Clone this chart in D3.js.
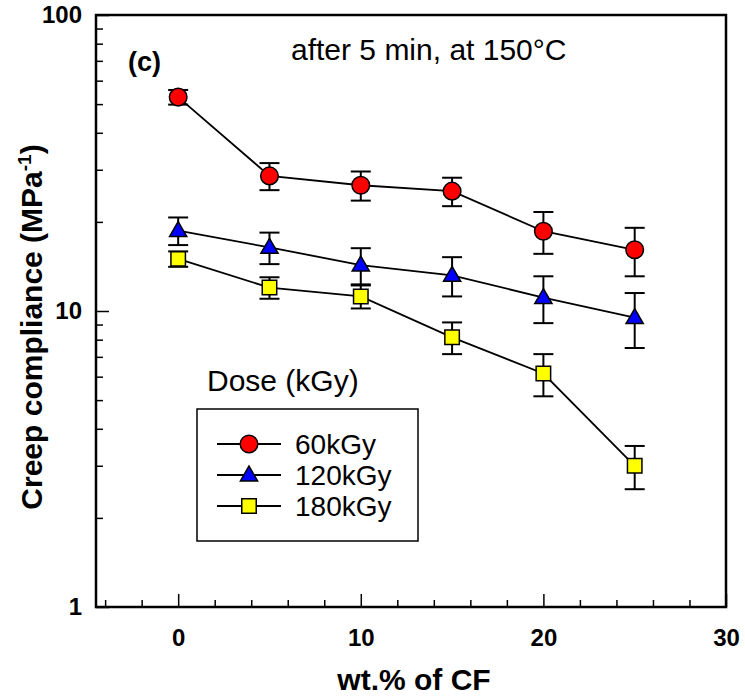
<!doctype html>
<html lang="en">
<head>
<meta charset="utf-8">
<style>
	body{margin:0;background:#fff;}
	svg text{font-family:Arial,"Liberation Sans",sans-serif;fill:#000;}
</style>
</head>
<body>
<div id="grafico"></div>

<script src="https://d3js.org/d3.v7.min.js"></script>

<script>

// datos (wt.% de CF vs compliance)

var wt = [0, 5, 10, 15, 20, 25];

var dosis = ["60kGy", "120kGy", "180kGy"];

var v60 = [52.8, 28.6, 26.6, 25.4, 18.6, 16.1];
var e60 = [3.0, 3.0, 3.0, 2.8, 3.0, 3.0];

var v120 = [18.7, 16.4, 14.3, 13.2, 11.1, 9.5];
var e120 = [2.0, 2.0, 2.0, 2.0, 2.0, 2.0];

var v180 = [15.0, 12.0, 11.2, 8.15, 6.15, 3.0];
var e180 = [0.9, 1.0, 1.0, 1.0, 1.0, 0.5];

var yMayores = [1, 10, 100];
var xMayores = [0, 10, 20, 30];

var series = [
	{nombre: dosis[0], v: v60, e: e60, forma: "circulo", color: "#ff0000"},
	{nombre: dosis[1], v: v120, e: e120, forma: "triangulo", color: "#0000ff"},
	{nombre: dosis[2], v: v180, e: e180, forma: "cuadrado", color: "#ffff00"}
];

var ancho = 745, alto = 698;
var m = {izq: 96, der: 726, arr: 15, aba: 607};

var x = d3.scaleLinear().domain([-4.5, 30]).range([m.izq, m.der]);
var y = d3.scaleLog().domain([1, 100]).range([m.aba, m.arr]);

var svg = d3.select("#grafico").append("svg").attr("width", ancho).attr("height", alto);

// ejes: ticks hacia adentro, sin etiquetas en los menores

var menoresY = y.ticks().filter(function(d){ return yMayores.indexOf(d) < 0; });
var menoresX = d3.range(-4, 30, 2).filter(function(d){ return xMayores.indexOf(d) < 0; });

svg.append("g").attr("transform", "translate(" + m.izq + ",0)")
	.call(d3.axisLeft(y).tickValues(menoresY).tickSize(-7).tickFormat(""))
	.call(function(g){ g.select(".domain").remove(); g.selectAll("line").attr("stroke-width", 1.5); });

svg.append("g").attr("transform", "translate(" + m.izq + ",0)")
	.call(d3.axisLeft(y).tickValues(yMayores).tickSize(-13).tickPadding(14).tickFormat(d3.format("d")))
	.call(function(g){
		g.select(".domain").remove();
		g.selectAll("line").attr("stroke-width", 1.5);
		g.selectAll("text").style("font-size", "24px").style("font-weight", "bold");
	});

svg.append("g").attr("transform", "translate(0," + m.aba + ")")
	.call(d3.axisBottom(x).tickValues(menoresX).tickSize(-7).tickFormat(""))
	.call(function(g){ g.select(".domain").remove(); g.selectAll("line").attr("stroke-width", 1.5); });

svg.append("g").attr("transform", "translate(0," + m.aba + ")")
	.call(d3.axisBottom(x).tickValues(xMayores).tickSize(-13).tickPadding(22).tickFormat(d3.format("d")))
	.call(function(g){
		g.select(".domain").remove();
		g.selectAll("line").attr("stroke-width", 1.5);
		g.selectAll("text").style("font-size", "24px").style("font-weight", "bold");
	});

svg.append("rect").attr("x", m.izq).attr("y", m.arr).attr("width", m.der - m.izq).attr("height", m.aba - m.arr)
	.attr("fill", "none").attr("stroke", "#000").attr("stroke-width", 2.5);

// titulos

svg.append("text").attr("x", 414).attr("y", 690).attr("text-anchor", "middle")
	.style("font-size", "30px").style("font-weight", "bold").text("wt.% of CF");

var ty = svg.append("text").attr("transform", "translate(42,327) rotate(-90)")
	.attr("text-anchor", "middle").style("font-size", "30px").style("font-weight", "bold");
ty.append("tspan").text("Creep compliance (MPa");
ty.append("tspan").attr("dy", -11).style("font-size", "19px").text("-1");
ty.append("tspan").attr("dy", 11).text(")");

svg.append("text").attr("x", 128).attr("y", 71).style("font-size", "27px").style("font-weight", "bold").text("(c)");
svg.append("text").attr("x", 291).attr("y", 60).style("font-size", "30px").text("after 5 min, at 150°C");
svg.append("text").attr("x", 207).attr("y", 391).style("font-size", "30px").text("Dose (kGy)");

// marcadores

var simbolo = {
	circulo: d3.symbol().type(d3.symbolCircle).size(Math.PI * 8.8 * 8.8),
	triangulo: d3.symbol().type(d3.symbolTriangle).size(128),
	cuadrado: d3.symbol().type(d3.symbolSquare).size(210)
};

var linea = d3.line().x(function(d){ return x(d.x); }).y(function(d){ return y(d.v); });

series.forEach(function(s){
	var pts = wt.map(function(w, i){ return {x: w, v: s.v[i], e: s.e[i]}; });
	var g = svg.append("g");

	g.append("path").datum(pts).attr("d", linea).attr("fill", "none").attr("stroke", "#000").attr("stroke-width", 1.8);

	var err = g.selectAll("g.err").data(pts).enter().append("g").attr("class", "err").attr("stroke", "#000").attr("stroke-width", 2);
	err.append("line").attr("x1", function(d){ return x(d.x); }).attr("x2", function(d){ return x(d.x); })
		.attr("y1", function(d){ return y(d.v + d.e); }).attr("y2", function(d){ return y(d.v - d.e); });
	err.append("line").attr("x1", function(d){ return x(d.x) - 10; }).attr("x2", function(d){ return x(d.x) + 10; })
		.attr("y1", function(d){ return y(d.v + d.e); }).attr("y2", function(d){ return y(d.v + d.e); });
	err.append("line").attr("x1", function(d){ return x(d.x) - 10; }).attr("x2", function(d){ return x(d.x) + 10; })
		.attr("y1", function(d){ return y(d.v - d.e); }).attr("y2", function(d){ return y(d.v - d.e); });

	g.selectAll("path.punto").data(pts).enter().append("path").attr("class", "punto")
		.attr("transform", function(d){ return "translate(" + x(d.x) + "," + (y(d.v) + (s.forma == "triangulo" ? 1 : 0)) + ")"; })
		.attr("d", simbolo[s.forma]()).attr("fill", s.color).attr("stroke", "#000").attr("stroke-width", 1.5);
});

// leyenda

var ley = svg.append("g").attr("transform", "translate(197,409)");
ley.append("rect").attr("width", 221).attr("height", 132).attr("fill", "#fff").attr("stroke", "#000").attr("stroke-width", 1.5);

var fila = ley.selectAll("g.fila").data(series).enter().append("g").attr("class", "fila")
	.attr("transform", function(d, i){ return "translate(0," + (35 + 31 * i) + ")"; });
fila.append("line").attr("x1", 20).attr("x2", 84).attr("stroke", "#000").attr("stroke-width", 1.8);
fila.append("path").attr("transform", function(d){ return "translate(52," + (d.forma == "triangulo" ? 1 : 0) + ")"; })
	.attr("d", function(d){ return simbolo[d.forma](); }).attr("fill", function(d){ return d.color; })
	.attr("stroke", "#000").attr("stroke-width", 1.5);
fila.append("text").attr("x", 98).attr("y", 10).style("font-size", "28px").text(function(d){ return d.nombre; });

</script>
</body>
</html>
